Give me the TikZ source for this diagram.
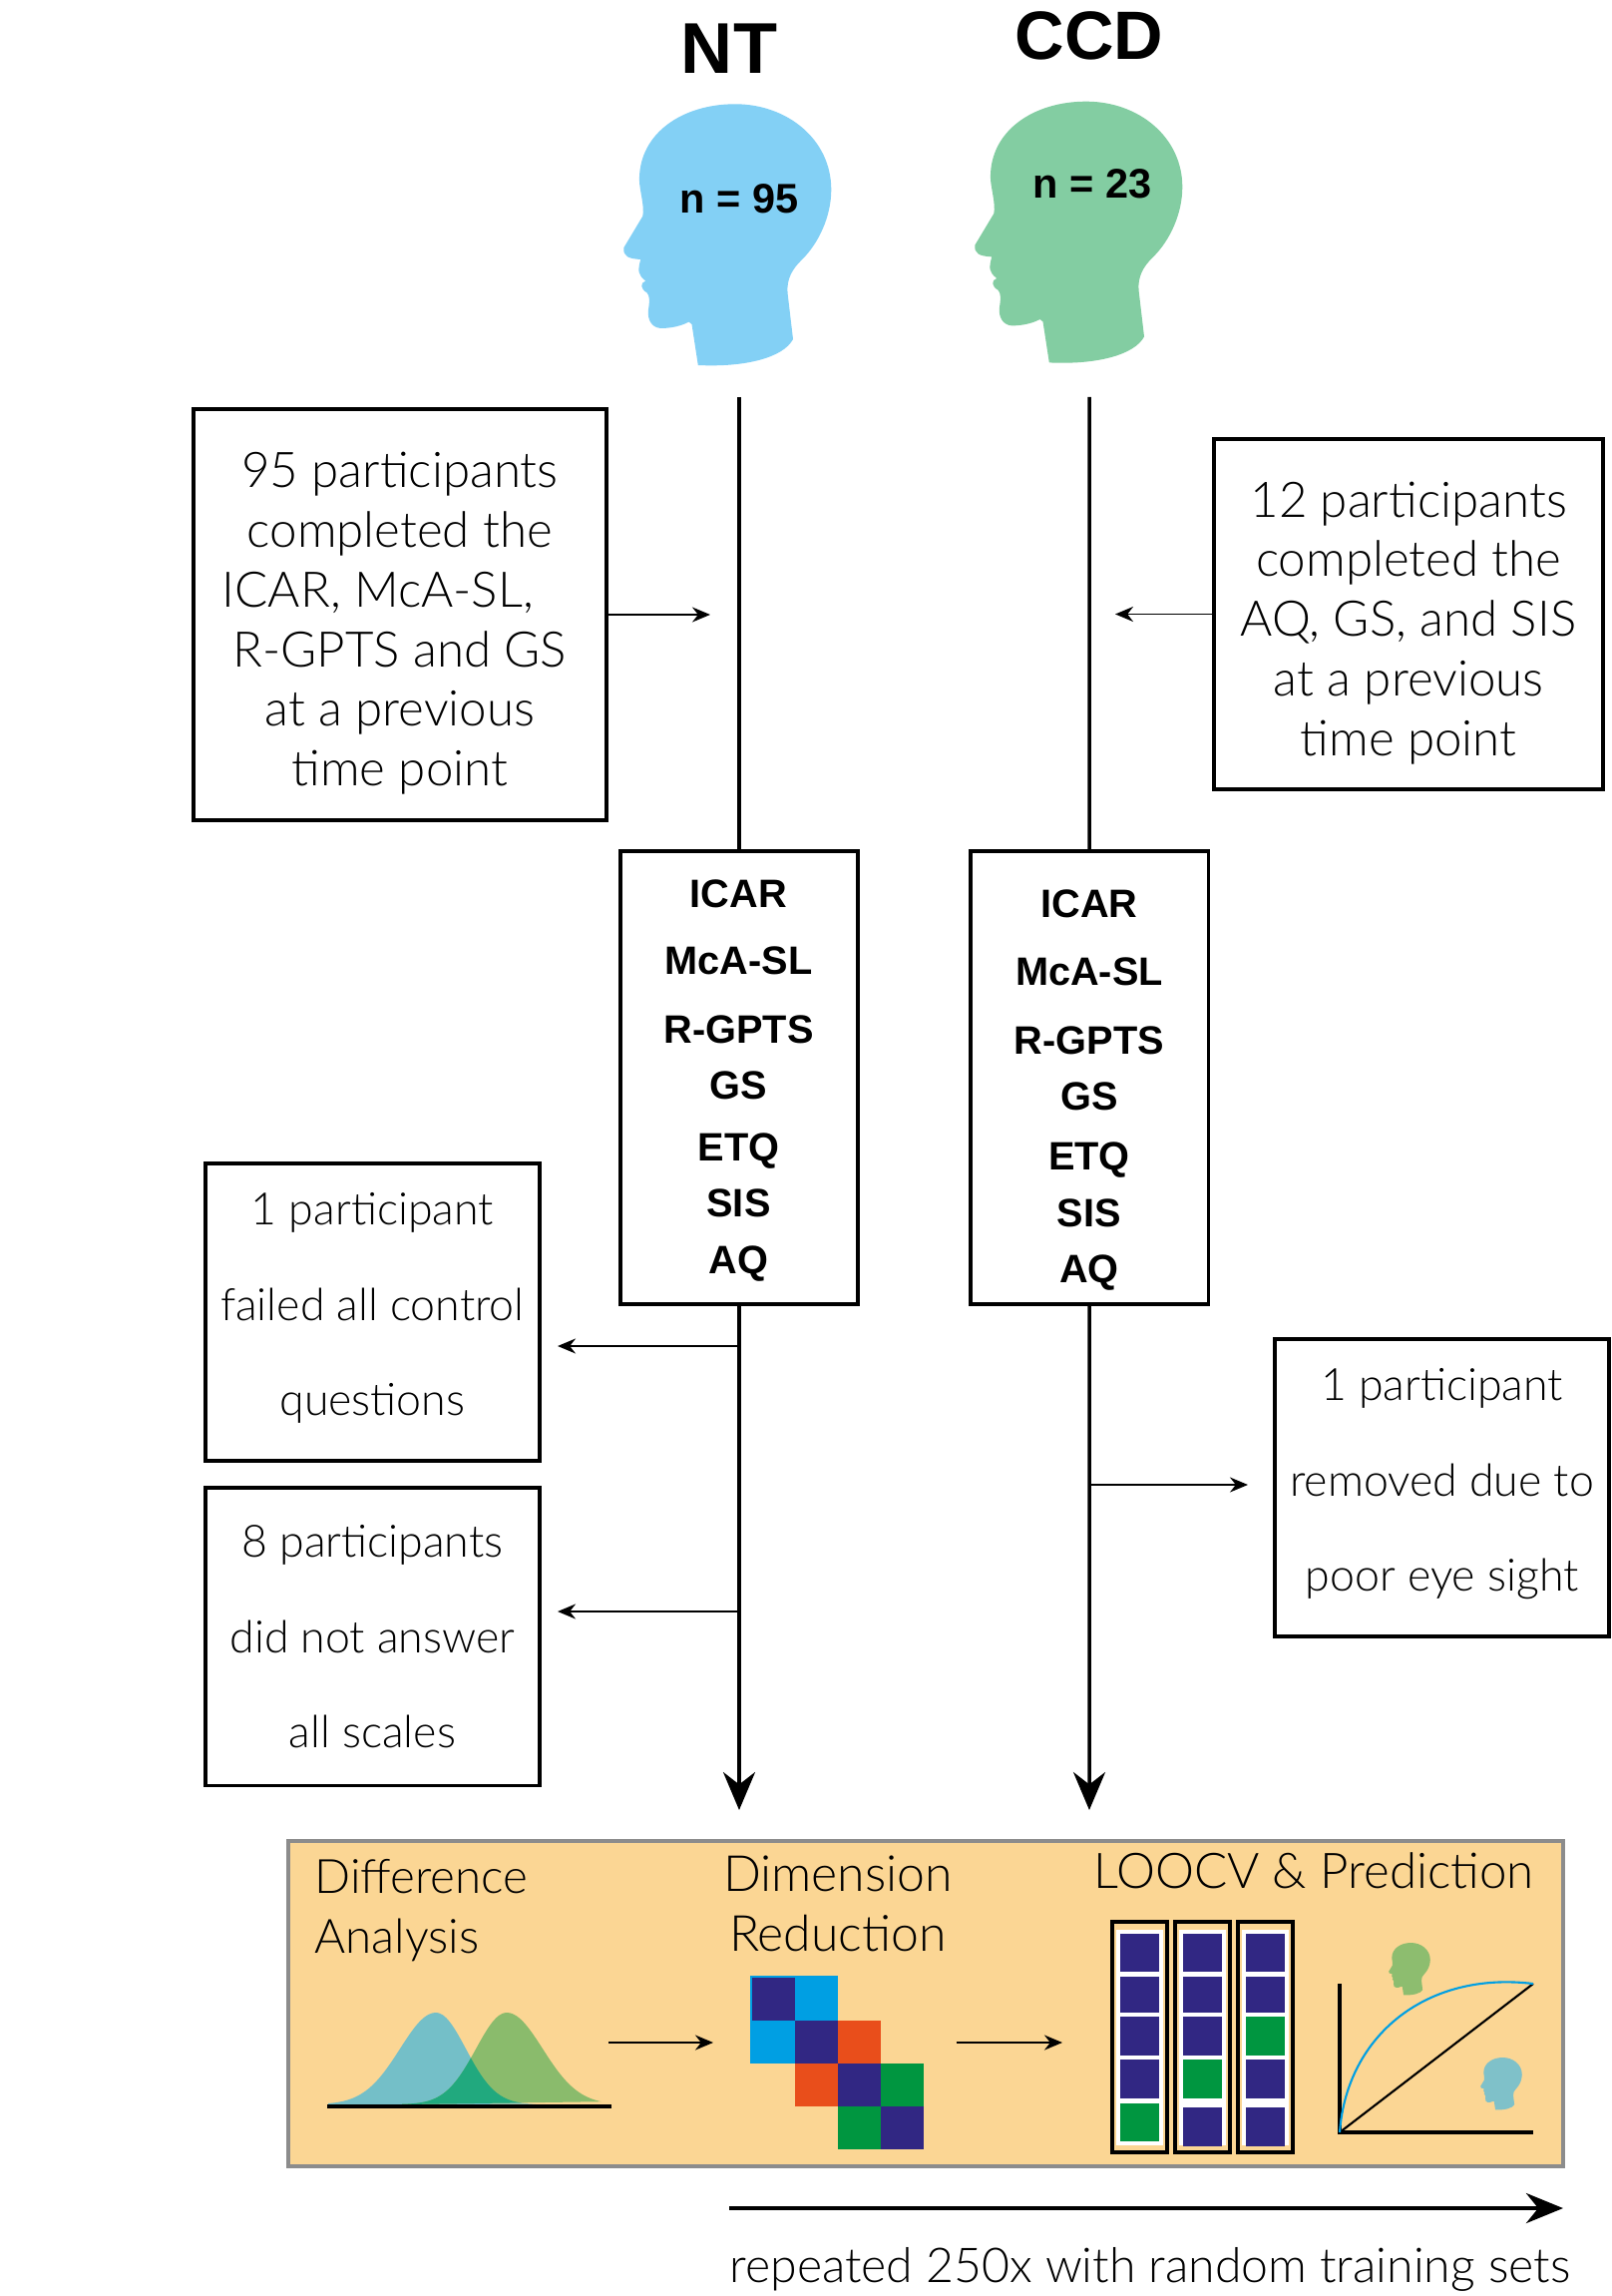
\documentclass[tikz,border=0pt]{standalone}
\usepackage{fontspec}
\setmainfont{Lato}[UprightFont=* Light,BoldFont=Liberation Sans Bold]
\newfontfamily\headfont{Liberation Sans Bold}
\usetikzlibrary{arrows.meta, positioning}
\definecolor{panelfill}{HTML}{FBD694}
\definecolor{ntblue}{HTML}{83D0F5}
\definecolor{ccdgreen}{HTML}{83CDA2}
\definecolor{cellnavy}{HTML}{312783}
\definecolor{cellblue}{HTML}{009FE3}
\definecolor{cellred}{HTML}{E94E1B}
\definecolor{cellgreen}{HTML}{009640}
\definecolor{curveblue}{HTML}{74BFC8}
\definecolor{curvegreen}{HTML}{8ABB6C}
\definecolor{curvemix}{HTML}{21A97E}
\definecolor{headgreen}{HTML}{8DBD6F}
\definecolor{headblue}{HTML}{7FC1C9}
\newcommand{\bluecurve}{(329,2109)
    -- plot[domain=-108:0,samples=30,smooth] ({437+\x},{2109-92*exp(-(\x*\x)/2592)})
    -- plot[domain=0:100,samples=30,smooth] ({437+\x},{2109-92*exp(-(\x*\x)/1800)}) -- cycle}
\newcommand{\greencurve}{(403,2109)
    -- plot[domain=-105:0,samples=30,smooth] ({508+\x},{2109-92*exp(-(\x*\x)/1900)})
    -- plot[domain=0:95,samples=30,smooth] ({508+\x},{2109-92*exp(-(\x*\x)/2592)}) -- cycle}
\tikzset{
    headpic/.pic={
        \fill[pic actions] (75.3,261.7) -- (69,220.7) -- (66.1,218.3)
            .. controls (55.6,224) and (42.9,224.7) .. (38,224.7)
            .. controls (28.2,224) and (24.8,215.7) .. (25.3,207.3)
            .. controls (26.9,197.3) and (26.9,192.3) .. (24,189)
            .. controls (17.7,185.7) and (16.8,179) .. (22.7,177.3)
            .. controls (14.7,170.7) and (14.7,167.3) .. (17.7,155.7)
            .. controls (5,155) and (0,152.3) .. (0.8,144)
            -- (19.8,112.3)
            .. controls (21.9,102.3) and (16.4,85.7) .. (16.4,75.7)
            .. controls (16.4,29) and (59.8,0) .. (112.4,0)
            .. controls (165,0) and (208.8,35.7) .. (208.8,85.7)
            .. controls (208.8,112.3) and (196.5,139) .. (179.7,155.7)
            .. controls (169.2,165.7) and (164.1,175.7) .. (165,189)
            -- (170.5,235.7)
            .. controls (160.8,254) and (122.9,264) .. (75.3,261.7) -- cycle;
    }
}
\begin{document}
\begin{tikzpicture}[
    x=0.01cm,y=-0.01cm,
    groupname/.style={font=\headfont\fontsize{19.5}{22}\selectfont},
    countlabel/.style={font=\headfont\fontsize{11.8}{14}\selectfont},
    notebox/.style={rectangle,draw,line width=1pt,outer sep=0pt,align=center,
        font=\fontsize{14}{17}\selectfont},
    dropbox/.style={notebox,minimum width=3.35cm,minimum height=2.98cm,inner xsep=0.05cm,
        font=\fontsize{12.7}{27.2}\selectfont},
    scalebox/.style={rectangle,draw,line width=1pt,outer sep=0pt,
        minimum width=2.38cm,minimum height=4.54cm},
    scalename/.style={font=\headfont\fontsize{11.3}{13}\selectfont},
    panellabel/.style={inner sep=0pt,font=\fontsize{14}{17}\selectfont},
    vline/.style={line width=1pt},
    bigarrow/.style={line width=1pt,-{Stealth[length=0.38cm,width=0.32cm]}},
    smallarrow/.style={line width=0.55pt,-{Stealth[length=0.18cm,width=0.15cm]}},
    fold/.style={draw=black,line width=1pt,fill=panelfill,minimum width=0.55cm,
        minimum height=2.31cm,outer sep=0pt,inner sep=0pt},
    foldback/.style={fill=white,minimum width=0.47cm,minimum height=2.16cm,
        outer sep=0pt,inner sep=0pt}
]
\useasboundingbox (0,0) rectangle (1616,2301);
% heads and group names
\pic[fill=ntblue] at (624.5,104.3) {headpic};
\pic[fill=ccdgreen] at (976.5,101.7) {headpic};
\node[groupname,font=\headfont\fontsize{20.5}{22}\selectfont] (ntname) at (731,49) {NT};
\node[groupname] (ccdname) at (1092,36) {CCD};
\node[countlabel,anchor=base] (ntcount) at (741,213.5) {n = 95};
\node[countlabel,anchor=base] (ccdcount) at (1095,199) {n = 23};
% scale lists
\node[scalebox] (ntlist) at (741,1080) {};
\node[scalebox, right=1.13cm of ntlist] (ccdlist) {};
\foreach \scalename/\ya/\yb in {ICAR/909.5/919.5,McA-SL/976.5/987.5,R-GPTS/1045.5/1056.5,
        GS/1101.5/1112.5,ETQ/1163.5/1172.5,SIS/1219.5/1229.5,AQ/1276.5/1285.5}{
    \node[scalename,anchor=base] (nt\scalename) at (740.5,\ya) {\scalename};
    \node[scalename,anchor=base] (ccd\scalename) at (1092,\yb) {\scalename};
}
% side boxes
\node[notebox,minimum width=4.14cm,minimum height=4.12cm,anchor=east] (ntprev) at (608,616)
    {\rule{0pt}{0.53cm}95 participants\\completed the\\ICAR, McA-SL,\hspace*{0.44cm}\mbox{}\\R-GPTS and GS\\at a previous\\time point};
\node[notebox,minimum width=3.9cm,minimum height=3.51cm,anchor=west] (ccdprev) at (1217,615.5)
    {\rule{0pt}{0.53cm}12 participants\\completed the\\AQ, GS, and SIS\\at a previous\\time point};
\node[dropbox,anchor=east] (ntfail) at (541,1315) {1 participant\\failed all control\\questions\rule[-0.16cm]{0pt}{0.16cm}};
\node[dropbox, below=0.27cm of ntfail] (ntscales) {8 participants\\did not answer\\all scales};
\node[dropbox,anchor=west] (ccdeye) at (1278,1491) {1 participant\\removed due to\\poor eye sight\rule[-0.16cm]{0pt}{0.16cm}};
% flow lines
\coordinate (nttop) at (741,398);
\coordinate (ccdtop) at (1092,398);
\coordinate (ntend) at (741,1814);
\coordinate (ccdend) at (1092,1814);
\coordinate (ntfailat) at (741,1349);
\coordinate (ntscalesat) at (741,1615);
\coordinate (ccdeyeat) at (1092,1488);
\draw[vline] (nttop) -- (ntlist.north);
\draw[vline] (ccdtop) -- (ccdlist.north);
\draw[bigarrow] (ntlist.south) -- (ntend);
\draw[bigarrow] (ccdlist.south) -- (ccdend);
\draw[smallarrow,shorten >=0.29cm] (ntprev.east) -- (nttop |- ntprev.east);
\draw[smallarrow,shorten >=0.26cm] (ccdprev.west) -- (ccdtop |- ccdprev.west);
\draw[smallarrow,shorten >=0.18cm] (ntfailat) -- (ntfail.east |- ntfailat);
\draw[smallarrow,shorten >=0.18cm] (ntscalesat) -- (ntscales.east |- ntscalesat);
\draw[smallarrow,shorten >=0.27cm] (ccdeyeat) -- (ccdeye.west |- ccdeyeat);
% analysis panel
\node[draw=black!45,line width=1pt,fill=panelfill,outer sep=0pt,anchor=north west,
    minimum width=12.77cm,minimum height=3.26cm] (panel) at (289,1845) {};
\node[panellabel,anchor=base west,font=\fontsize{13.5}{17}\selectfont] (difflabel) at (315,1897) {Difference};
\node[panellabel,anchor=base west,font=\fontsize{13.5}{17}\selectfont] (difflabelb) at (315,1957) {Analysis};
\node[panellabel,anchor=base,font=\fontsize{14.2}{17}\selectfont] (dimlabel) at (840,1895) {Dimension};
\node[panellabel,anchor=base,font=\fontsize{14.2}{17}\selectfont] (dimlabelb) at (840,1955) {Reduction};
\node[panellabel,anchor=base] (loolabel) at (1317,1892) {LOOCV \& Prediction};
% overlapping curves
\fill[curveblue] \bluecurve;
\fill[curvegreen] \greencurve;
\begin{scope}
    \clip \bluecurve;
    \fill[curvemix] \greencurve;
\end{scope}
\draw[line width=1pt] (328,2111) -- (613,2111);
% loading matrix
\foreach \cellcolor/\xa/\ya/\xb/\yb in {cellblue/752/1980/840/2025,cellnavy/754/1982/797/2025,
        cellblue/752/2025/797/2068,cellnavy/797/2025/840/2068,cellred/840/2025/883/2068,
        cellred/797/2068/840/2111,cellnavy/840/2068/883/2111,cellgreen/883/2068/926/2111,
        cellgreen/840/2111/883/2154,cellnavy/883/2111/926/2154}{
    \fill[\cellcolor] (\xa,\ya) rectangle (\xb,\yb);
}
\coordinate (diffout) at (610,2047);
\coordinate (dimin) at (715,2047);
\coordinate (dimout) at (958.5,2047);
\coordinate (looin) at (1065,2047);
\draw[smallarrow] (diffout) -- (dimin);
\draw[smallarrow] (dimout) -- (looin);
% folds, green square moves up one place per fold
\foreach \foldx/\greenrow in {1142.3/5,1205.3/4,1268.3/3}{
    \node[fold] at (\foldx,2041.5) {};
    \node[foldback] at (\foldx,2042) {};
    \foreach \rowtop/\rowend/\rownum in {1938/1976/1,1981/2017/2,2021/2060/3,2064/2103/4}{
        \ifnum\rownum=\greenrow
            \fill[cellgreen] ({\foldx-19.5},\rowtop) rectangle ({\foldx+19.5},\rowend);
        \else
            \fill[cellnavy] ({\foldx-19.5},\rowtop) rectangle ({\foldx+19.5},\rowend);
        \fi
    }
    \ifnum\greenrow=5
        \fill[cellgreen] ({\foldx-19.5},2108) rectangle ({\foldx+19.5},2146);
    \else
        \fill[cellnavy] ({\foldx-19.5},2112) rectangle ({\foldx+19.5},2151);
    \fi
}
% prediction plot
\coordinate (origin) at (1343,2137);
\coordinate (ytop) at (1343,1988);
\coordinate (xend) at (1537,2137);
\coordinate (corner) at (1537,1988);
\draw[line width=1pt] (ytop) -- (origin) -- (xend);
\draw[line width=0.6pt] (origin) -- (corner);
\draw[cellblue,line width=0.6pt] (origin) .. controls (1350,2040) and (1430,1975) .. (corner);
\pic[fill=headgreen,scale=0.2] at (1392,1947) {headpic};
\pic[fill=headblue,scale=0.2] at (1484,2062) {headpic};
% repeat arrow
\coordinate (repstart) at (731,2213);
\coordinate (repend) at (1567,2213);
\draw[line width=1.3pt,-{Stealth[length=0.37cm,width=0.3cm]}] (repstart) -- (repend);
\node[panellabel,anchor=base west,font=\fontsize{13.7}{17}\selectfont] (replabel) at (731,2287) {repeated 250x with random training sets};
\end{tikzpicture}
\end{document}
